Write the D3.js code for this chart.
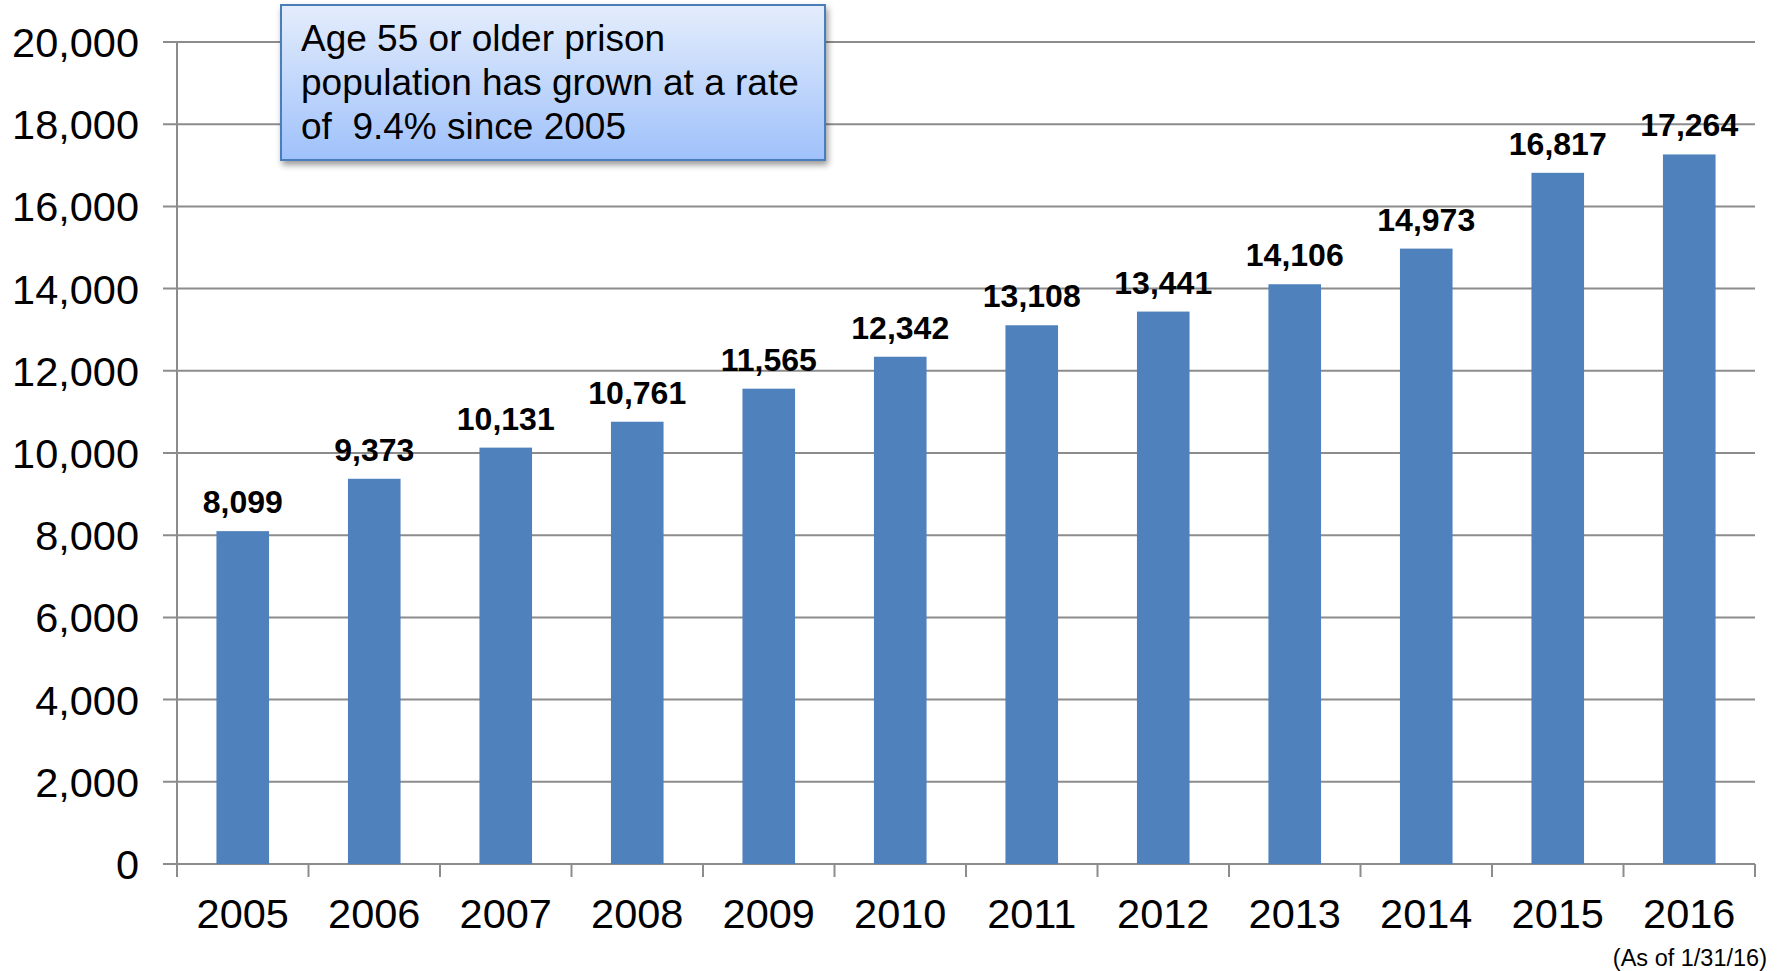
<!DOCTYPE html>
<html>
<head>
<meta charset="utf-8">
<script src="https://cdn.jsdelivr.net/npm/d3@7"></script>
<style>
  body { margin: 0; background: #fff; }
  svg { display: block; font-family: "Liberation Sans", Arial, sans-serif; }
</style>
</head>
<body>
<div id="chart"></div>
<script>
// data
var years = ["2005", "2006", "2007", "2008", "2009", "2010", "2011", "2012", "2013", "2014", "2015", "2016"];
var inmates = [8099, 9373, 10131, 10761, 11565, 12342, 13108, 13441, 14106, 14973, 16817, 17264];
var yTicks = [0, 2000, 4000, 6000, 8000, 10000, 12000, 14000, 16000, 18000, 20000];
var noteLines = ["Age 55 or older prison", "population has grown at a rate", "of  9.4% since 2005"];
var footnote = "(As of 1/31/16)";

var width = 1786, height = 971;
var margin = { top: 42, right: 31, bottom: 107, left: 177 };

var data = years.map(function (d, i) { return { year: d, value: inmates[i] }; });

var svg = d3.select("#chart")
  .append("svg")
  .attr("width", width)
  .attr("height", height);

var x = d3.scaleBand()
  .domain(years)
  .range([margin.left, width - margin.right])
  .paddingInner(0.6)
  .paddingOuter(0.3);

var y = d3.scaleLinear()
  .domain([0, 20000])
  .range([height - margin.bottom, margin.top]);

var gridColor = "#8c8c8c";

// gridlines + y labels
svg.append("g")
  .selectAll("line")
  .data(yTicks)
  .enter()
  .append("line")
  .attr("x1", margin.left - 14)
  .attr("x2", width - margin.right)
  .attr("y1", function (d) { return y(d); })
  .attr("y2", function (d) { return y(d); })
  .attr("stroke", gridColor)
  .attr("stroke-width", 2);

svg.append("g")
  .selectAll("text")
  .data(yTicks)
  .enter()
  .append("text")
  .attr("x", 139)
  .attr("y", function (d) { return y(d); })
  .attr("dy", "0.36em")
  .attr("text-anchor", "end")
  .attr("font-size", 41.5)
  .attr("fill", "#000")
  .text(function (d) { return d3.format(",")(d); });

// y axis line
svg.append("line")
  .attr("x1", margin.left).attr("x2", margin.left)
  .attr("y1", y(20000)).attr("y2", y(0) + 13)
  .attr("stroke", gridColor)
  .attr("stroke-width", 2);

// x ticks at category boundaries
var bounds = years.map(function (d) { return x(d) - x.step() * x.paddingOuter(); });
bounds.push(width - margin.right);
svg.append("g")
  .selectAll("line")
  .data(bounds)
  .enter()
  .append("line")
  .attr("x1", function (d) { return d; })
  .attr("x2", function (d) { return d; })
  .attr("y1", y(0))
  .attr("y2", y(0) + 13)
  .attr("stroke", gridColor)
  .attr("stroke-width", 2);

// bars
svg.append("g")
  .selectAll("rect")
  .data(data)
  .enter()
  .append("rect")
  .attr("x", function (d) { return x(d.year); })
  .attr("y", function (d) { return y(d.value); })
  .attr("width", x.bandwidth())
  .attr("height", function (d) { return y(0) - y(d.value); })
  .attr("fill", "#4f81bd");

// value labels
svg.append("g")
  .selectAll("text")
  .data(data)
  .enter()
  .append("text")
  .attr("x", function (d) { return x(d.year) + x.bandwidth() / 2; })
  .attr("y", function (d) { return y(d.value) - 18; })
  .attr("text-anchor", "middle")
  .attr("font-size", 32)
  .attr("font-weight", "bold")
  .attr("fill", "#000")
  .text(function (d) { return d3.format(",")(d.value); });

// x labels
svg.append("g")
  .selectAll("text")
  .data(years)
  .enter()
  .append("text")
  .attr("x", function (d) { return x(d) + x.bandwidth() / 2; })
  .attr("y", 928)
  .attr("text-anchor", "middle")
  .attr("font-size", 41.5)
  .attr("fill", "#000")
  .text(function (d) { return d; });

// footnote
svg.append("text")
  .attr("x", 1767)
  .attr("y", 966)
  .attr("text-anchor", "end")
  .attr("font-size", 23.5)
  .attr("fill", "#000")
  .text(footnote);

// callout box
var defs = svg.append("defs");
var grad = defs.append("linearGradient")
  .attr("id", "boxFill")
  .attr("x1", 0).attr("y1", 0).attr("x2", 0).attr("y2", 1);
grad.append("stop").attr("offset", "0%").attr("stop-color", "#e4edfc");
grad.append("stop").attr("offset", "100%").attr("stop-color", "#9fc1fb");

var shadow = defs.append("filter")
  .attr("id", "shadow")
  .attr("x", "-10%").attr("y", "-10%")
  .attr("width", "130%").attr("height", "140%");
shadow.append("feDropShadow")
  .attr("dx", 2).attr("dy", 4)
  .attr("stdDeviation", 3)
  .attr("flood-color", "#000")
  .attr("flood-opacity", 0.4);

svg.append("rect")
  .attr("x", 281)
  .attr("y", 5)
  .attr("width", 544)
  .attr("height", 155)
  .attr("fill", "url(#boxFill)")
  .attr("stroke", "#4a7ebb")
  .attr("stroke-width", 2)
  .attr("filter", "url(#shadow)");

svg.append("g")
  .selectAll("text")
  .data(noteLines)
  .enter()
  .append("text")
  .attr("x", 301)
  .attr("y", function (d, i) { return 51 + i * 44; })
  .attr("font-size", 37)
  .attr("fill", "#000")
  .attr("xml:space", "preserve")
  .style("white-space", "pre")
  .text(function (d) { return d; });
</script>
</body>
</html>
